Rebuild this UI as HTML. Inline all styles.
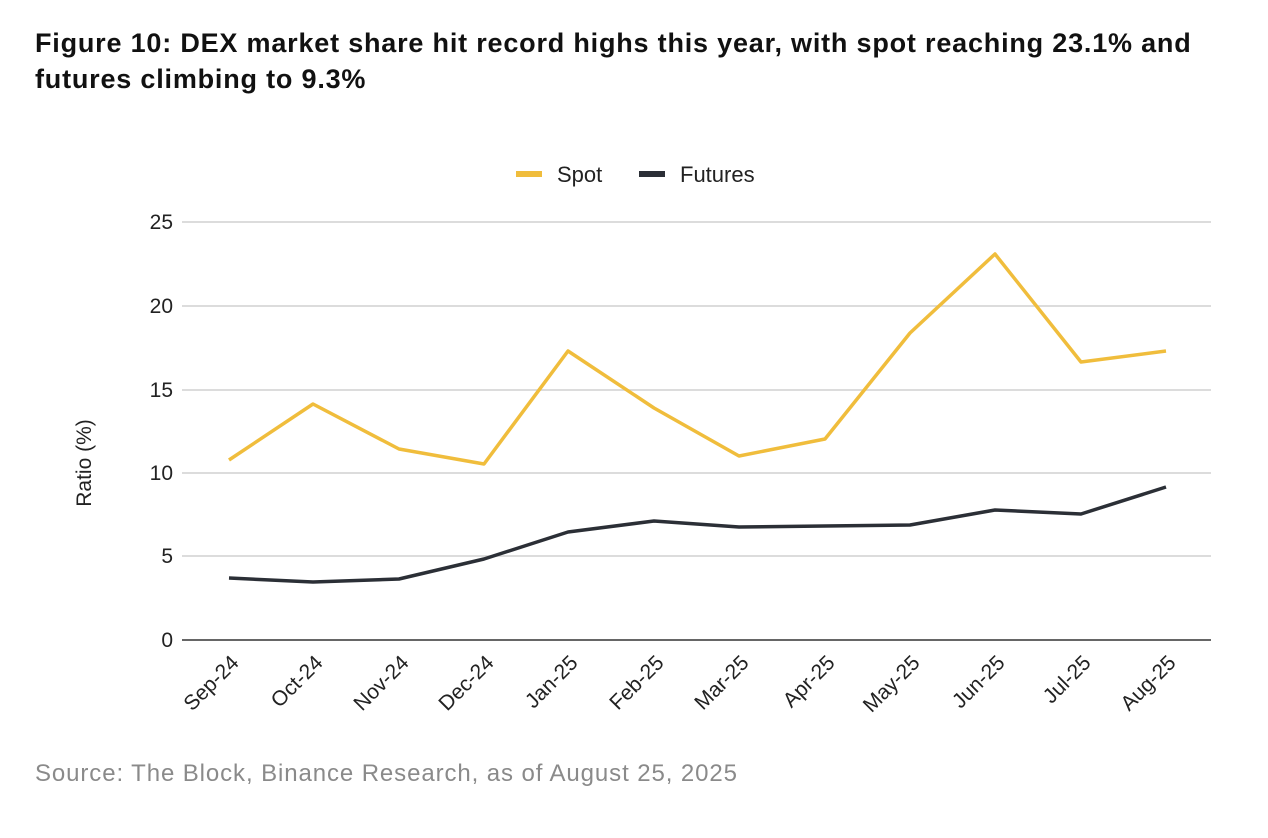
<!DOCTYPE html>
<html><head><meta charset="utf-8"><style>
body{margin:0;width:1268px;height:838px;background:#fff;overflow:hidden;font-family:"Liberation Sans",sans-serif;}
.t{position:absolute;left:35px;top:25px;font-size:27px;font-weight:bold;line-height:36px;color:#111;letter-spacing:0.8px;white-space:nowrap}
.s{position:absolute;left:35px;top:760px;font-size:24px;color:#8a8a8a;letter-spacing:0.9px;white-space:nowrap}
</style></head><body>
<div class="t">Figure 10: DEX market share hit record highs this year, with spot reaching 23.1% and<br>futures climbing to 9.3%</div>
<svg width="1268" height="838" style="position:absolute;left:0;top:0" font-family="Liberation Sans, sans-serif">
<g stroke="#d0d0d0" stroke-width="1.5">
<line x1="182" x2="1211" y1="222" y2="222"/><line x1="182" x2="1211" y1="306" y2="306"/>
<line x1="182" x2="1211" y1="390" y2="390"/><line x1="182" x2="1211" y1="473" y2="473"/>
<line x1="182" x2="1211" y1="556" y2="556"/></g>
<line x1="182" x2="1211" y1="640" y2="640" stroke="#333" stroke-width="1.5"/>
<g font-size="21" fill="#222" text-anchor="end">
<text x="173" y="229">25</text><text x="173" y="313">20</text><text x="173" y="397">15</text>
<text x="173" y="480">10</text><text x="173" y="563">5</text><text x="173" y="647">0</text></g>
<text transform="translate(91,463) rotate(-90)" font-size="21" fill="#222" text-anchor="middle">Ratio (%)</text>
<rect x="516" y="171" width="26" height="6" fill="#f0bd3c"/><text x="557" y="182" font-size="22" fill="#222">Spot</text>
<rect x="639" y="171" width="26" height="6" fill="#2b2f36"/><text x="680" y="182" font-size="22" fill="#222">Futures</text>
<polyline fill="none" stroke="#f0bd3c" stroke-width="3.5" stroke-linejoin="round" points="229,460 313,404 399,449 484,464 568,351 654,408 739,456 825,439 910,333 995,254 1081,362 1166,351"/>
<polyline fill="none" stroke="#2b2f36" stroke-width="3.5" stroke-linejoin="round" points="229,578 313,582 399,579 484,559 568,532 654,521 739,527 825,526 910,525 995,510 1081,514 1166,487"/>
<g font-size="21" fill="#222" text-anchor="end">
<text transform="translate(240,664) rotate(-45)">Sep-24</text>
<text transform="translate(324,664) rotate(-45)">Oct-24</text>
<text transform="translate(410,664) rotate(-45)">Nov-24</text>
<text transform="translate(495,664) rotate(-45)">Dec-24</text>
<text transform="translate(579,664) rotate(-45)">Jan-25</text>
<text transform="translate(665,664) rotate(-45)">Feb-25</text>
<text transform="translate(750,664) rotate(-45)">Mar-25</text>
<text transform="translate(836,664) rotate(-45)">Apr-25</text>
<text transform="translate(921,664) rotate(-45)">May-25</text>
<text transform="translate(1006,664) rotate(-45)">Jun-25</text>
<text transform="translate(1092,664) rotate(-45)">Jul-25</text>
<text transform="translate(1177,664) rotate(-45)">Aug-25</text>
</g></svg>
<div class="s">Source: The Block, Binance Research, as of August 25, 2025</div>
</body></html>
